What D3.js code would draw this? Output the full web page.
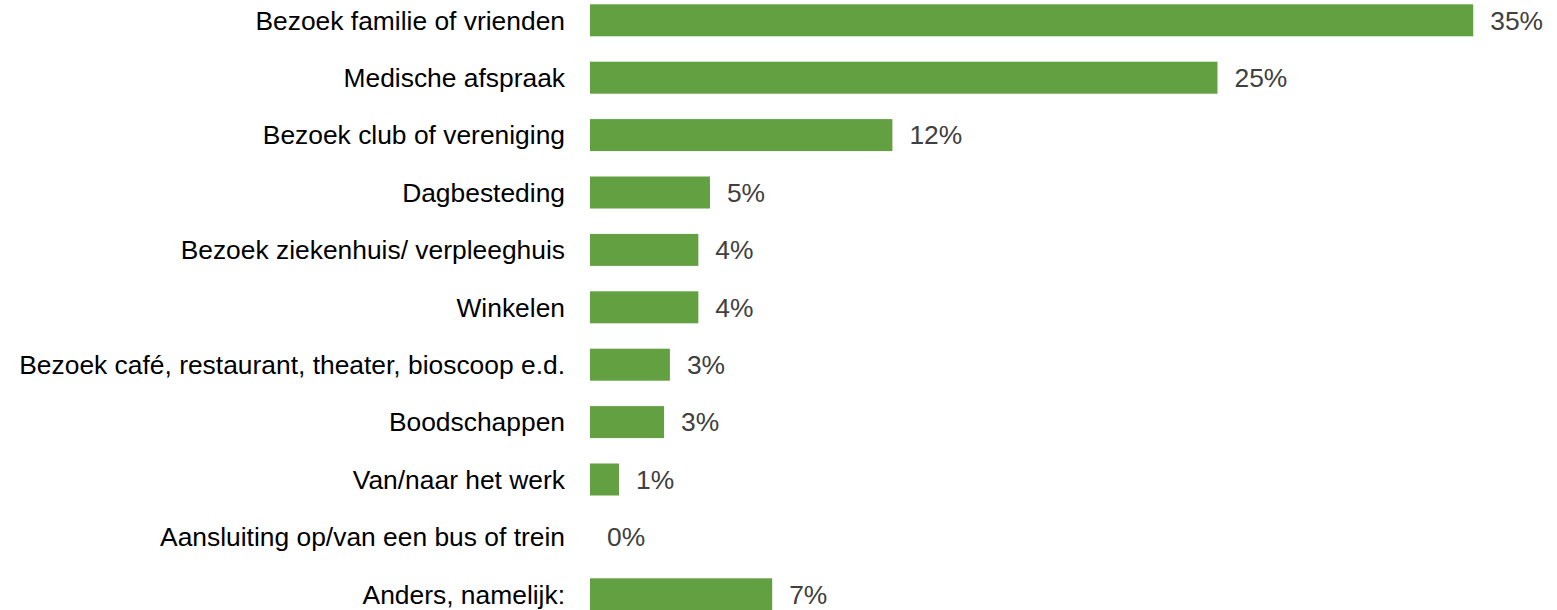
<!DOCTYPE html>
<html>
<head>
<meta charset="utf-8">
<script src="https://cdn.jsdelivr.net/npm/d3@7"></script>
<style>
  html, body { margin: 0; padding: 0; background: #fff; }
  svg { display: block; }
</style>
</head>
<body>
<svg id="chart" width="1557" height="610"></svg>
<script>
const categories = [
  "Bezoek familie of vrienden",
  "Medische afspraak",
  "Bezoek club of vereniging",
  "Dagbesteding",
  "Bezoek ziekenhuis/ verpleeghuis",
  "Winkelen",
  "Bezoek café, restaurant, theater, bioscoop e.d.",
  "Boodschappen",
  "Van/naar het werk",
  "Aansluiting op/van een bus of trein",
  "Anders, namelijk:"
];
const values = [35.05, 24.9, 12.0, 4.76, 4.3, 4.3, 3.17, 2.94, 1.15, 0, 7.23];
const valueLabels = ["35%", "25%", "12%", "5%", "4%", "4%", "3%", "3%", "1%", "0%", "7%"];

const svg = d3.select("#chart");
const x0 = 590;
const pxPerPct = 25.2;
const fontSize = 26.4;

const x = d3.scaleLinear().domain([0, 35]).range([x0, x0 + 35 * pxPerPct]);
const step = 57.4;
const pad = 1 - 32 / step;
const y = d3.scaleBand()
  .domain(categories)
  .range([4.3 - step * pad / 2, 4.3 - step * pad / 2 + step * categories.length])
  .paddingInner(pad)
  .paddingOuter(pad / 2);

const data = categories.map((c, i) => ({ c, v: values[i], l: valueLabels[i] }));

svg.selectAll("rect.bar").data(data).enter().append("rect")
  .attr("class", "bar")
  .attr("x", x(0))
  .attr("y", d => y(d.c))
  .attr("width", d => x(d.v) - x(0))
  .attr("height", y.bandwidth())
  .attr("fill", "#63A042");

svg.selectAll("text.cat").data(data).enter().append("text")
  .attr("class", "cat")
  .attr("x", x0 - 25)
  .attr("y", d => y(d.c) + y.bandwidth() / 2)
  .attr("dy", "0.35em")
  .attr("text-anchor", "end")
  .attr("font-family", "Liberation Sans, Arial, sans-serif")
  .attr("font-size", fontSize)
  .attr("fill", "#000")
  .text(d => d.c);

svg.selectAll("text.val").data(data).enter().append("text")
  .attr("class", "val")
  .attr("x", d => x(d.v) + 17)
  .attr("y", d => y(d.c) + y.bandwidth() / 2)
  .attr("dy", "0.35em")
  .attr("text-anchor", "start")
  .attr("font-family", "Liberation Sans, Arial, sans-serif")
  .attr("font-size", fontSize)
  .attr("fill", "#404040")
  .text(d => d.l);
</script>
</body>
</html>
